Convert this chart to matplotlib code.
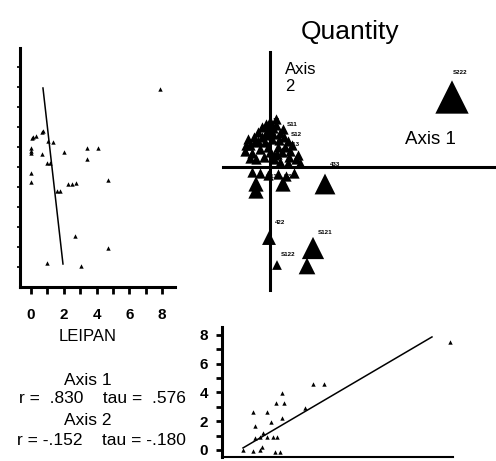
import matplotlib
matplotlib.use("Agg")
import matplotlib.pyplot as plt
import numpy as np

plt.rcParams['font.family'] = ['Liberation Sans', 'DejaVu Sans']

# ---------------- data ----------------
# Left panel: LEIPAN vs axis score
leipan_x = [7.87, 0.06, 0.12, 0.30, 0.67, 0.73, 1.04, 1.34, 0.0, 0.0, 0.0, 0.67,
            2.0, 3.4, 4.1, 3.4, 0.98, 1.16, 0.0, 0.0, 4.7, 2.26, 2.5, 2.74,
            1.6, 1.77, 2.68, 4.7, 0.98, 3.05]
leipan_y = [9.9, 7.45, 7.5, 7.55, 7.75, 7.8, 7.3, 7.25, 6.95, 6.8, 6.7, 6.65,
            6.75, 6.95, 6.95, 6.4, 6.2, 6.2, 5.7, 5.25, 5.35, 5.15, 5.15, 5.2,
            4.8, 4.8, 2.55, 1.95, 1.2, 1.05]
leipan_fit_x = [0.73, 1.95]
leipan_fit_y = [9.95, 1.15]
leipan_ticks = [0, 2, 4, 6, 8]

# Ordination (Quantity)
cluster_x = [-2.2, -2.0, -1.6, -1.2, -0.8, -0.4, 0.0, 0.3, 0.6, 1.0, 1.4, 1.8, 2.2,
             -2.5, -1.8, -1.0, -0.5, 0.2, 0.8, 1.2, 2.0, 2.8, -1.4, -0.6, 0.4, 1.0,
             1.8, 3.0, -1.0, -0.2, 0.8, 1.6, -1.8, 2.4, 0.3, -0.3, 0.6, -1.5, 1.5, 0.0,
             -2.4, -1.2, -0.2, 0.9, 1.9, 2.6, -0.8, 0.4, 1.3, -2.0, -0.4, 0.7]
cluster_y = [2.8, 2.2, 3.0, 3.5, 4.0, 4.3, 4.6, 3.9, 4.2, 3.4, 3.0, 2.6, 2.2,
             1.6, 1.4, 1.8, 2.5, 2.8, 2.0, 1.5, 1.6, 1.2, 0.8, 1.0, 0.8, 0.5,
             0.4, 0.4, -0.6, -0.8, -0.7, -0.9, -0.5, -0.6, 3.3, 3.6, 4.8, 2.5, 2.0, 1.5,
             2.2, 2.6, 2.0, 2.7, 1.0, 0.8, 3.0, 1.2, 3.8, 0.9, 3.2, 1.3]
big_x = [18.2, 5.5, -1.4, -1.4, 1.3, -0.1, 4.3, 3.7, 0.7]
big_y = [7.0, -1.7, -1.7, -2.4, -1.7, -7.1, -8.1, -9.9, -9.8]
big_size = [24, 15, 11, 11, 11, 10, 16, 12, 7]
ord_labels = ["S222", "S121", "S122", "422", "433", "17", "S11", "S12", "S13", "S11 1 S32"]
ord_lab_x = [19.0, 5.5, 1.8, 1.0, 6.5, 0.6, 2.2, 2.6, 2.4, 1.0]
ord_lab_y = [9.5, -6.6, -8.7, -5.6, 0.25, 4.6, 4.3, 3.2, 2.2, -0.9]

# Bottom panel
bot_x = [9.87, 3.94, 4.42, 2.6, 2.34, 2.68, 1.34, 1.95, 2.6, 1.43, 2.12, 3.6,
         1.43, 1.65, 1.77, 1.95, 2.2, 2.38, 0.91, 1.34, 1.65, 1.73, 2.29, 2.51]
bot_y = [7.5, 4.58, 4.58, 3.96, 3.26, 3.26, 2.64, 2.64, 2.22, 1.67, 1.94, 2.92,
         0.83, 0.9, 1.18, 0.9, 0.9, 0.9, 0.0, -0.07, 0.0, 0.2, -0.14, -0.14]
bot_fit_x = [0.91, 9.09]
bot_fit_y = [0.14, 7.85]
bot_ticks = [0, 2, 4, 6, 8]

stats_text = ["Axis 1", "r =  .830    tau =  .576", "Axis 2", "r = -.152    tau = -.180"]

# ---------------- figure ----------------
W, H = 496, 461
fig = plt.figure(figsize=(W / 100, H / 100), dpi=100)

def rect(l, t, r, b):
    return [l / W, 1 - b / H, (r - l) / W, (b - t) / H]

# Left panel
ax1 = fig.add_axes(rect(20, 48, 175, 287))
ax1.scatter(leipan_x, leipan_y, marker='^', s=10, color='black', linewidths=0)
ax1.plot(leipan_fit_x, leipan_fit_y, color='black', lw=1.1)
ax1.set_xlim(-0.67, 8.78)
ax1.set_ylim(0, 11.95)
for s in ['top', 'right']:
    ax1.spines[s].set_visible(False)
ax1.spines['left'].set_linewidth(2.2)
ax1.spines['bottom'].set_linewidth(2.2)
ax1.set_xticks(leipan_ticks)
ax1.set_xticks(range(0, 9), minor=True)
ax1.set_xticklabels([str(t) for t in leipan_ticks], fontsize=11, fontweight='bold')
ax1.tick_params(axis='x', which='both', direction='out', length=5, width=2, pad=10)
ax1.set_yticks(np.arange(1, 12, 1.0))
ax1.set_yticklabels([])
ax1.tick_params(axis='y', which='both', direction='out', length=2, width=1.2)

# Ordination panel
ax2 = fig.add_axes(rect(200, 40, 496, 300))
ax2.set_xlim(-7, 22.6)
ax2.set_ylim(-13.3, 12.7)
ax2.axis('off')
ax2.plot([0, 0], [-12.3, 11.5], color='black', lw=2.2)
ax2.plot([-4.7, 22.6], [0, 0], color='black', lw=2.2)
ax2.scatter(cluster_x, cluster_y, marker='^', s=55, color='black', linewidths=0)
ax2.scatter(big_x, big_y, marker='^', s=[v ** 2 for v in big_size], color='black', linewidths=0)
for lab, lx, ly in zip(ord_labels, ord_lab_x, ord_lab_y):
    ax2.text(lx, ly, lab, fontsize=4.5, fontweight='bold', ha='center', va='center')
ax2.text(1.5, 8.9, "Axis\n2", fontsize=12, ha='left', va='center', linespacing=1.2,
         multialignment='left')
ax2.text(13.5, 2.7, "Axis 1", fontsize=13.5, ha='left', va='center')
fig.text(350 / W, 1 - 32 / H, "Quantity", fontsize=19, ha='center', va='center')

# Bottom panel
ax3 = fig.add_axes(rect(222, 327, 453, 457))
ax3.scatter(bot_x, bot_y, marker='^', s=10, color='black', linewidths=0)
ax3.plot(bot_fit_x, bot_fit_y, color='black', lw=1.1)
ax3.set_xlim(0, 10)
ax3.set_ylim(-0.49, 8.54)
for s in ['top', 'right']:
    ax3.spines[s].set_visible(False)
ax3.spines['left'].set_linewidth(2.2)
ax3.spines['bottom'].set_linewidth(1.5)
ax3.set_yticks(bot_ticks)
ax3.set_yticks(range(0, 9), minor=True)
ax3.set_yticklabels([str(t) for t in bot_ticks], fontsize=11, fontweight='bold')
ax3.tick_params(axis='y', which='both', direction='out', length=4, width=2, pad=6)
ax3.set_xticks([])

# Text block
fig.text(88 / W, 1 - 336 / H, "LEIPAN", fontsize=12, ha='center', va='center')
ys = [380, 398, 420, 440]
for i, (t, y) in enumerate(zip(stats_text, ys)):
    if i % 2 == 0:
        fig.text(88 / W, 1 - y / H, t, fontsize=12.5, ha='center', va='center')
    else:
        fig.text(186 / W, 1 - y / H, t, fontsize=12.5, ha='right', va='center')

fig.savefig("out.png", dpi=100)
